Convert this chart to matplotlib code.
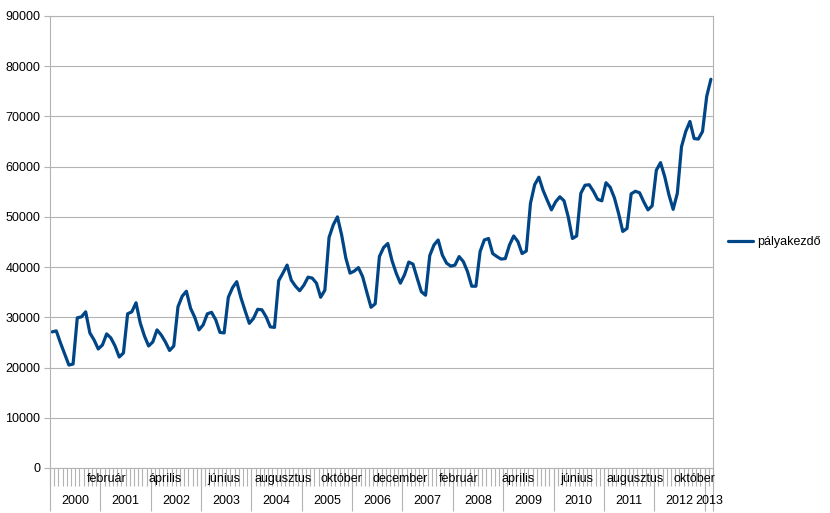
import matplotlib
matplotlib.use("Agg")
import matplotlib.pyplot as plt
import matplotlib.transforms as mtransforms


YEARS = [str(y) for y in range(2000, 2014)]

MONTH_LABELS = [
    "február", "április", "június", "augusztus", "október", "december",
    "február", "április", "június", "augusztus", "október",
]
MONTH_LABEL_POS = [13, 27, 41, 55, 69, 83, 97, 111, 125, 139, 153]

VALUES = [
    # 2000
    27100, 27300, 24900, 22700, 20500, 20700, 29900, 30100, 31100, 26900, 25500, 23700,
    # 2001
    24500, 26700, 25900, 24300, 22100, 22900, 30700, 31100, 32900, 28900, 26300, 24300,
    # 2002
    25100, 27500, 26500, 25100, 23400, 24300, 32100, 34200, 35200, 31800, 30000, 27500,
    # 2003
    28500, 30700, 31000, 29500, 27000, 26900, 34000, 35900, 37100, 33900, 31300, 28800,
    # 2004
    29800, 31600, 31500, 30100, 28100, 28000, 37300, 38800, 40400, 37400, 36200, 35300,
    # 2005
    36400, 38000, 37800, 36800, 34000, 35400, 45900, 48400, 50000, 46400, 41800, 38800,
    # 2006
    39200, 39900, 38100, 35000, 32000, 32700, 42100, 43900, 44700, 41300, 38800, 36800,
    # 2007
    38500, 41000, 40600, 37800, 35100, 34400, 42300, 44400, 45400, 42400, 40800, 40200,
    # 2008
    40400, 42100, 41100, 39100, 36200, 36200, 43100, 45400, 45700, 42700, 42100, 41600,
    # 2009
    41700, 44400, 46200, 45100, 42700, 43200, 52700, 56400, 57900, 55300, 53300, 51400,
    # 2010
    53000, 54000, 53200, 50000, 45700, 46200, 54700, 56300, 56400, 55100, 53500, 53200,
    # 2011
    56800, 55900, 53800, 50700, 47100, 47700, 54600, 55100, 54800, 53000, 51400, 52200,
    # 2012
    59300, 60800, 58000, 54400, 51500, 54700, 64000, 67000, 69000, 65600, 65500, 67000,
    # 2013
    74000, 77400,
]

Y_TICKS = list(range(0, 90001, 10000))

GRID = "#b3b3b3"
LINE = "#004586"
FS = 9


def main() -> None:
    plt.rcParams["font.family"] = ["Liberation Sans", "DejaVu Sans"]
    fig = plt.figure(figsize=(8.3, 5.13), dpi=100)
    ax = fig.add_axes([50 / 830, 1 - 468 / 513, 663 / 830, 452 / 513])

    n = len(VALUES)
    xs = [i + 0.5 for i in range(n)]
    ax.plot(xs, VALUES, color=LINE, lw=2.3, solid_joinstyle="round",
            solid_capstyle="round", label="pályakezdő")

    ax.set_xlim(0, n)
    ax.set_ylim(0, 90000)
    ax.set_yticks(Y_TICKS)
    ax.set_yticklabels([str(v) for v in Y_TICKS], fontsize=FS)
    ax.yaxis.grid(True, color=GRID, lw=0.8)
    ax.set_axisbelow(True)
    ax.tick_params(axis="y", length=4, color=GRID, pad=3)
    ax.set_xticks([])
    for sp in ax.spines.values():
        sp.set_color(GRID)
        sp.set_linewidth(0.8)

    trans = mtransforms.blended_transform_factory(ax.transData, ax.transAxes)
    # small month ticks
    ax.vlines(range(n + 1), -0.040, 0, transform=trans, color=GRID,
              lw=0.8, clip_on=False)
    # year separators
    year_edges = list(range(0, n, 12)) + [n]
    ax.vlines(year_edges, -0.095, 0, transform=trans, color=GRID,
              lw=0.8, clip_on=False)

    for pos, lab in zip(MONTH_LABEL_POS, MONTH_LABELS):
        ax.text(pos + 0.5, -0.025, lab, transform=trans, ha="center",
                va="center", fontsize=FS)

    for k, yr in enumerate(YEARS):
        start = k * 12
        end = min(start + 12, n)
        ax.text((start + end) / 2, -0.072, yr, transform=trans,
                ha="center", va="center", fontsize=FS)

    ax.legend(loc="center left", bbox_to_anchor=(1.005, 0.5), frameon=False,
              fontsize=FS, handlelength=2.0, handletextpad=0.4)

    fig.savefig("out.png", dpi=100)


if __name__ == "__main__":
    main()
